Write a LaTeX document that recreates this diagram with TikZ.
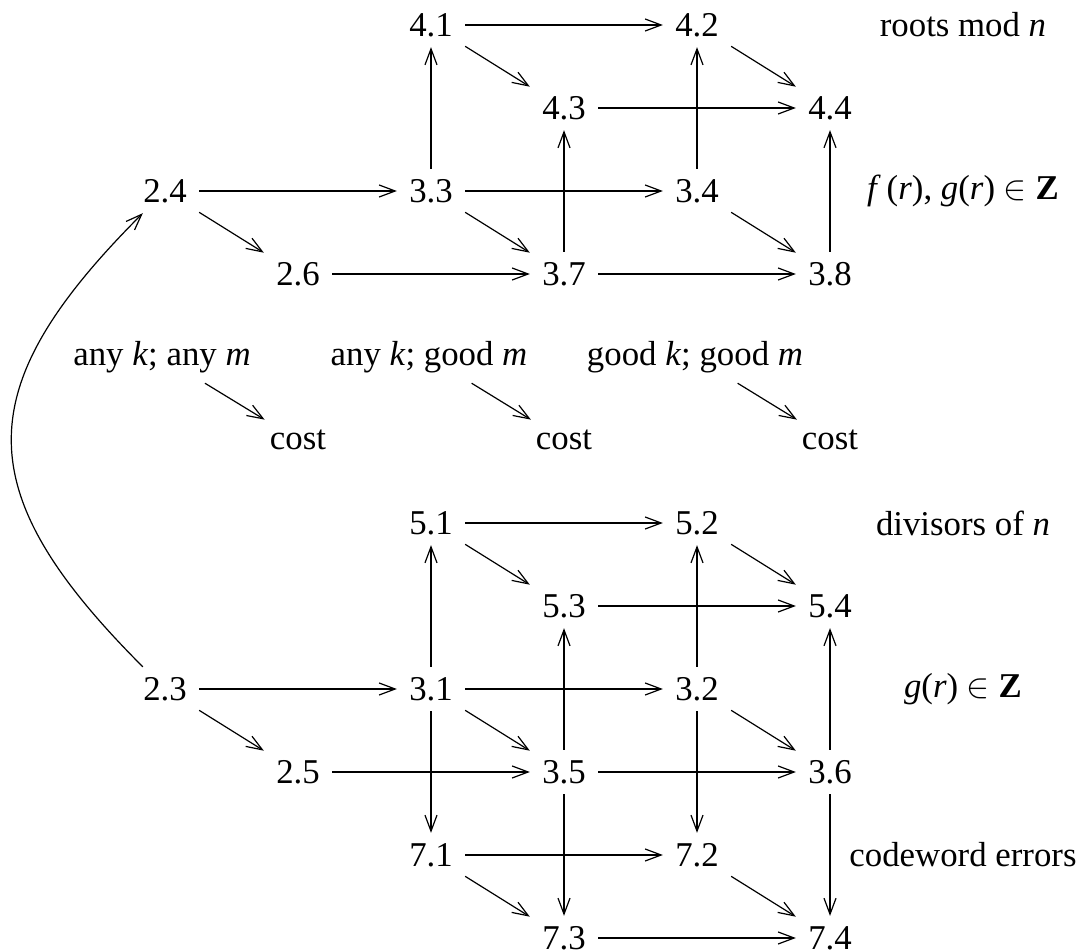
\documentclass[tikz,border=0pt]{standalone}
\usepackage{fontspec}
\setmainfont{Liberation Serif}
\usetikzlibrary{arrows.meta}
\begin{document}
\begin{tikzpicture}[x=0.5pt,y=-0.5pt,
  every node/.style={font=\fontsize{17.4}{20}\selectfont, inner xsep=6pt, inner ysep=5pt},
  ar/.style={-{Straight Barb[length=8pt,width=6pt]}, line width=0.6pt},
  lab/.style={}]
\useasboundingbox (0,0) rectangle (1082,952);
% top cube
\node (n41) at (431,25) {4.1};
\node (n42) at (697,25) {4.2};
\node (n43) at (564,108) {4.3};
\node (n44) at (830,108) {4.4};
\node (n24) at (165,191) {2.4};
\node (n33) at (431,191) {3.3};
\node (n34) at (697,191) {3.4};
\node (n26) at (298,274) {2.6};
\node (n37) at (564,274) {3.7};
\node (n38) at (830,274) {3.8};
\node[lab] (t1) at (963,25) {roots mod \textit{n}};
\node[lab] (t2) at (963,191) {\textit{f}\,(\textit{r}), \textit{g}(\textit{r}) $\in$ \textbf{Z}};
% labels
\node[lab] (l1) at (162,357) {any \textit{k}; any \textit{m}};
\node[lab] (l2) at (429,357) {any \textit{k}; good \textit{m}};
\node[lab] (l3) at (695,357) {good \textit{k}; good \textit{m}};
\node (c1) at (298,440) {cost};
\node (c2) at (564,440) {cost};
\node (c3) at (830,440) {cost};
% bottom cube
\node (n51) at (431,523) {5.1};
\node (n52) at (697,523) {5.2};
\node (n53) at (564,606) {5.3};
\node (n54) at (830,606) {5.4};
\node (n23) at (165,689) {2.3};
\node (n31) at (431,689) {3.1};
\node (n32) at (697,689) {3.2};
\node (n25) at (298,772) {2.5};
\node (n35) at (564,772) {3.5};
\node (n36) at (830,772) {3.6};
\node (n71) at (431,855) {7.1};
\node (n72) at (697,855) {7.2};
\node (n73) at (564,938) {7.3};
\node (n74) at (830,938) {7.4};
\node[lab] (t3) at (963,523) {divisors of \textit{n}};
\node[lab] (t4) at (963,689) {\textit{g}(\textit{r}) $\in$ \textbf{Z}};
\node[lab] (t5) at (963,855) {codeword errors};
% top arrows
\draw[ar] (n41) -- (n42);
\draw[ar] (n41) -- (n43);
\draw[ar] (n42) -- (n44);
\draw[ar] (n43) -- (n44);
\draw[ar] (n33) -- (n41);
\draw[ar] (n34) -- (n42);
\draw[ar] (n37) -- (n43);
\draw[ar] (n38) -- (n44);
\draw[ar] (n24) -- (n33);
\draw[ar] (n24) -- (n26);
\draw[ar] (n33) -- (n34);
\draw[ar] (n33) -- (n37);
\draw[ar] (n34) -- (n38);
\draw[ar] (n26) -- (n37);
\draw[ar] (n37) -- (n38);
% label arrows
\draw[ar] (l1) -- (c1);
\draw[ar] (l2) -- (c2);
\draw[ar] (l3) -- (c3);
% bottom arrows
\draw[ar] (n51) -- (n52);
\draw[ar] (n51) -- (n53);
\draw[ar] (n52) -- (n54);
\draw[ar] (n53) -- (n54);
\draw[ar] (n31) -- (n51);
\draw[ar] (n32) -- (n52);
\draw[ar] (n35) -- (n53);
\draw[ar] (n36) -- (n54);
\draw[ar] (n23) -- (n31);
\draw[ar] (n23) -- (n25);
\draw[ar] (n31) -- (n32);
\draw[ar] (n31) -- (n35);
\draw[ar] (n32) -- (n36);
\draw[ar] (n25) -- (n35);
\draw[ar] (n35) -- (n36);
\draw[ar] (n31) -- (n71);
\draw[ar] (n32) -- (n72);
\draw[ar] (n35) -- (n73);
\draw[ar] (n36) -- (n74);
\draw[ar] (n71) -- (n72);
\draw[ar] (n71) -- (n73);
\draw[ar] (n72) -- (n74);
\draw[ar] (n73) -- (n74);
% curved arrow
\draw[ar] (n23) to[out=135,in=-135,looseness=1.4] (n24);
\end{tikzpicture}
\end{document}
